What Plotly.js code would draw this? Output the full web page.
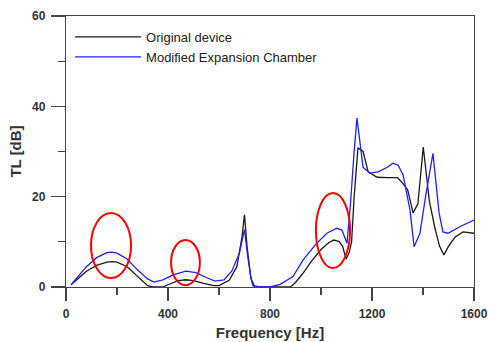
<!DOCTYPE html>
<html><head><meta charset="utf-8">
<script src="https://cdn.plot.ly/plotly-3.0.1.min.js"></script>
<style>html,body{margin:0;padding:0;background:#fff}#c{width:489px;height:342px}</style>
</head><body><div id="c"></div>
<script>
const origFreq = [20,40,80,120,160,180,200,240,280,320,340,380,400,440,470,500,540,580,600,640,670,690,700,710,725,740,800,880,900,930,960,1000,1030,1050,1070,1085,1098,1110,1120,1130,1145,1165,1185,1220,1260,1300,1320,1340,1361,1380,1401,1425,1447,1465,1482,1500,1525,1557,1600];
const origTL   = [0.5,1.5,3.5,4.8,5.5,5.6,5.5,4.5,2.5,0.3,0,0,0.5,1.4,1.6,1.4,0.8,0.3,0.3,1.5,4.5,11,16,9,2,0,0,0,1,3.1,5.5,8.3,9.8,10.4,10.1,9,6.2,7.5,10,20,30.8,30,25.5,24.3,24.2,24.2,23,21.5,16.4,18.4,31,19,13,9,7.1,9,11,12.2,11.9];
const modFreq  = [20,40,80,120,160,180,200,240,280,320,345,380,420,470,510,550,585,620,650,680,700,712,725,733,760,800,840,890,930,980,1023,1062,1082,1102,1115,1130,1141,1165,1192,1224,1260,1282,1302,1322,1349,1365,1388,1410,1439,1463,1478,1498,1550,1600];
const modTL    = [0.5,1.8,4.5,6.5,7.6,7.7,7.5,6.2,3.8,1.8,1.1,1.6,2.7,3.5,3.2,2.1,1.3,1.6,3.5,7.5,12.7,7,2,0.3,0,0,0.6,2.3,6,9.5,11.9,13,12.6,9.7,18,30,37.4,26.5,25.2,25.5,26.5,27.4,27,24.8,17,8.9,11.9,20,29.6,16.4,12.2,11.9,13.5,14.8];
const seriesNames = ['Original device','Modified Expansion Chamber'];
const xTicks = [0,400,800,1200,1600];
const yTicks = [0,20,40,60];

const fontFam = 'Liberation Sans, Arial, sans-serif';
const traces = [
  {x: origFreq, y: origTL, name: seriesNames[0], mode:'lines', line:{color:'#1a1a1a', width:1.3}},
  {x: modFreq, y: modTL, name: seriesNames[1], mode:'lines', line:{color:'#1f1fff', width:1.3}}
];
const axisCommon = {
  showgrid:false, zeroline:false, showline:true, linecolor:'#444', linewidth:1.2, mirror:true,
  ticks:'outside', tickwidth:1.2, tickcolor:'#444',
  tickfont:{family:fontFam, size:12, color:'#333', weight:'bold'}
};
const layout = {
  width:489, height:342,
  margin:{l:66, r:15, t:16, b:55},
  paper_bgcolor:'#fff', plot_bgcolor:'#fff',
  showlegend:true,
  legend:{x:0.01, y:0.978, xanchor:'left', yanchor:'top', bgcolor:'rgba(0,0,0,0)',
          font:{family:fontFam, size:13, color:'#222'}, itemwidth:66, tracegroupgap:0},
  xaxis: Object.assign({}, axisCommon, {
    range:[0,1600], tickvals:xTicks, ticktext:xTicks.map(String), ticklen:13, ticklabelstandoff:2,
    minor:{dtick:200, ticks:'outside', ticklen:7, tickwidth:1.2, tickcolor:'#444'},
    title:{text:'Frequency [Hz]', font:{family:fontFam, size:15, color:'#333', weight:'bold'}, standoff:8}
  }),
  yaxis: Object.assign({}, axisCommon, {
    range:[0,60], tickvals:yTicks, ticktext:yTicks.map(String), ticklen:14, ticklabelstandoff:3,
    minor:{dtick:10, ticks:'outside', ticklen:7, tickwidth:1.2, tickcolor:'#444'},
    title:{text:'TL [dB]', font:{family:fontFam, size:15, color:'#333', weight:'bold'}, standoff:6}
  }),
  shapes:[
    {type:'circle', xref:'x', yref:'y', x0:98, x1:255, y0:2.0, y1:16.4, line:{color:'#ff0000', width:2}},
    {type:'circle', xref:'x', yref:'y', x0:412, x1:525, y0:0.4, y1:10.4, line:{color:'#ff0000', width:2}},
    {type:'circle', xref:'x', yref:'y', x0:980, x1:1114, y0:4.2, y1:20.8, line:{color:'#ff0000', width:2}}
  ]
};
Plotly.newPlot('c', traces, layout, {staticPlot:true, displayModeBar:false});
</script>
</body></html>
